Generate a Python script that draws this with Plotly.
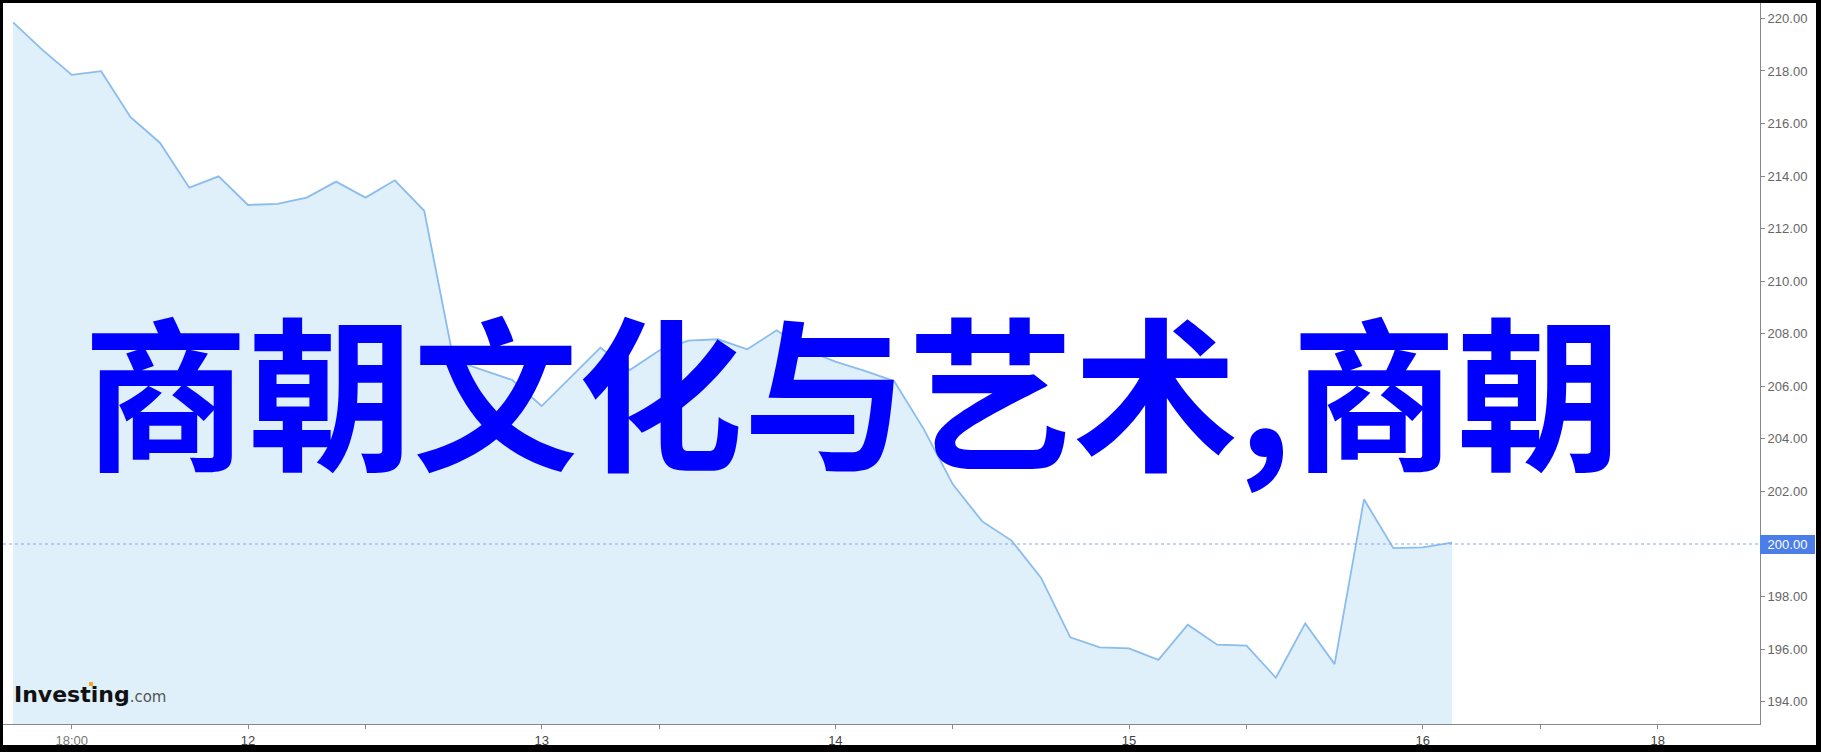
import plotly.graph_objects as go

# ---- data ----
point_index = list(range(50))
price = [219.85, 218.80, 217.85, 217.99, 216.24, 215.27, 213.56, 213.99, 212.90, 212.94,
         213.18, 213.79, 213.18, 213.84, 212.68, 207.00, 206.62, 206.24, 205.25, 206.35,
         207.47, 206.62, 207.36, 207.74, 207.79, 207.41, 208.13, 207.38, 206.94, 206.59,
         206.20, 204.39, 202.27, 200.86, 200.13, 198.72, 196.45, 196.07, 196.03, 195.59,
         196.93, 196.17, 196.13, 194.91, 196.98, 195.43, 201.70, 199.84, 199.87, 200.05]
x_tick_vals = [2, 8, 12, 18, 22, 28, 32, 38, 42, 48, 52, 56]
x_tick_text = ["<span style='color:#777'>18:00</span>", "12", "", "13", "", "14", "",
               "15", "", "16", "", "18"]
y_tick_vals = [194, 196, 198, 200, 202, 204, 206, 208, 210, 212, 214, 216, 218, 220]
ref_level = 200.00
title_text = "商朝文化与艺术,商朝"

W, H = 1821, 752
L, R, T, B = 3, 1760, 3, 724


def xp(px):
    return (px - L) / (R - L)


def yp(py):
    return (B - py) / (B - T)


fig = go.Figure()
fig.add_trace(go.Scatter(
    x=point_index, y=price, mode="lines",
    line=dict(color="#8abcee", width=1.8),
    fill="tozeroy", fillcolor="#e0f0fa",
    hoverinfo="skip", showlegend=False,
))

fig.update_layout(
    width=W, height=H,
    margin=dict(l=L, r=W - R, t=T, b=H - B, pad=0),
    paper_bgcolor="black", plot_bgcolor="white",
    showlegend=False,
    xaxis=dict(
        range=[(L - 13.06) / 29.368, (R - 13.06) / 29.368],
        tickmode="array", tickvals=x_tick_vals, ticktext=x_tick_text,
        ticks="outside", ticklen=4, tickcolor="#888", tickwidth=1,
        showline=True, linecolor="#888", linewidth=1,
        showgrid=False, zeroline=False,
        tickfont=dict(family="Liberation Sans, Arial", size=13, color="#444"),
    ),
    yaxis=dict(
        side="right",
        range=[193.151, 220.586],
        tickmode="array", tickvals=y_tick_vals, tickformat=".2f",
        ticks="outside", ticklen=4, tickcolor="#888", tickwidth=1,
        showline=True, linecolor="#888", linewidth=1,
        showgrid=False, zeroline=False,
        tickfont=dict(family="Liberation Sans, Arial", size=13, color="#666"),
    ),
    shapes=[
        dict(type="rect", xref="paper", yref="paper",
             x0=xp(3), x1=xp(1816), y0=yp(745), y1=yp(3),
             fillcolor="white", line=dict(width=0), layer="below"),
        dict(type="line", xref="paper", yref="y",
             x0=0, x1=1, y0=ref_level, y1=ref_level,
             line=dict(color="#8aa5f0", width=1.2, dash="dot"), layer="above"),
        dict(type="rect", xref="paper", yref="paper",
             x0=xp(89), x1=xp(93), y0=yp(686), y1=yp(682),
             fillcolor="#f5a623", line=dict(width=0), layer="above"),
    ],
    annotations=[
        dict(text=f"{ref_level:.2f}", xref="paper", yref="y", x=1, y=ref_level,
             xanchor="left", yanchor="middle", showarrow=False,
             font=dict(family="Liberation Sans, Arial", size=13, color="white"),
             bgcolor="#4b7ee8", borderwidth=0, borderpad=1, width=53, height=17),
        dict(text=title_text, xref="paper", yref="paper",
             x=xp(852), y=yp(386), xanchor="center", yanchor="middle",
             showarrow=False,
             font=dict(family="Noto Sans CJK SC", size=165, color="#0000ff", weight=700)),
        dict(text="<b>Investing</b><span style='font-size:15px;color:#555'>.com</span>",
             xref="paper", yref="paper", x=xp(12), y=yp(694),
             xanchor="left", yanchor="middle", showarrow=False,
             font=dict(family="DejaVu Sans", size=22, color="#111")),
    ],
)

fig.write_html("out.html",
               config={"displayModeBar": False},
               post_script="document.body.style.margin='0px';"
                           "document.body.style.overflow='hidden';")
